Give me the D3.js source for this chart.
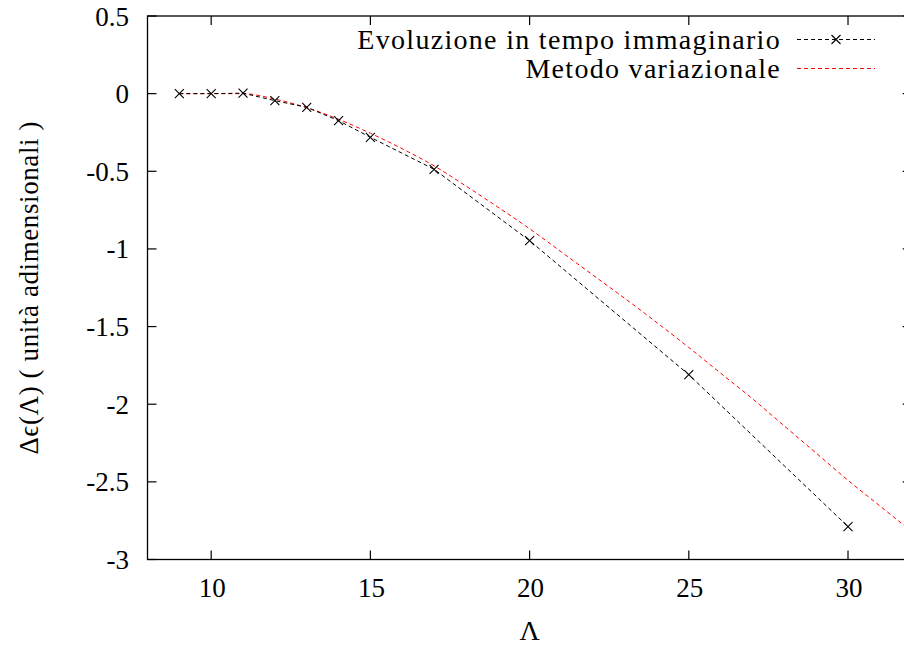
<!DOCTYPE html>
<html>
<head>
<meta charset="utf-8">
<script src="https://cdn.jsdelivr.net/npm/d3@7"></script>
<style>
  html, body { margin: 0; padding: 0; background: #fff; }
  svg { display: block; }
</style>
</head>
<body>
<svg id="chart" width="904" height="648"></svg>
<script>
// ---- data ----
const lambdaImag = [9, 10, 11, 12, 13, 14, 15, 17, 20, 25, 30];
const deltaImag  = [0, 0, 0.003, -0.045, -0.088, -0.174, -0.281, -0.487, -0.947, -1.81, -2.788];

const lambdaVar = [9, 10, 11, 12, 13, 14, 15, 16, 17, 18, 19, 20, 21, 22, 23, 24, 25, 26, 27, 28, 29, 30, 31, 32];
const deltaVar  = [0, 0, 0, -0.035, -0.09, -0.165, -0.255, -0.355, -0.465, -0.595, -0.73, -0.87, -1.02, -1.17, -1.32, -1.475, -1.635, -1.80, -1.965, -2.14, -2.315, -2.49, -2.655, -2.82];

const xTicks = [10, 15, 20, 25, 30];
const yTicks = [0.5, 0, -0.5, -1, -1.5, -2, -2.5, -3];

const seriesNames = ["Evoluzione in tempo immaginario", "Metodo variazionale"];
const xTitle = "Λ";
const yTitle = "Δϵ(Λ) ( unità adimensionali )";

// ---- layout ----
const FONT = "'Liberation Serif', 'DejaVu Serif', 'Times New Roman', Times, serif";
const svg = d3.select("#chart").attr("font-family", FONT);
const L = 147.5, R = 911.7, T = 16, B = 559.5;
const x = d3.scaleLinear().domain([8, 32]).range([L, R]);
const y = d3.scaleLinear().domain([-3, 0.5]).range([B, T]);
const fs = 27;

svg.append("defs").append("clipPath").attr("id", "plotclip")
  .append("rect").attr("x", L).attr("y", T).attr("width", R - L).attr("height", B - T);

// border
svg.append("rect").attr("x", L).attr("y", T).attr("width", R - L).attr("height", B - T)
  .attr("fill", "none").attr("stroke", "#000").attr("stroke-width", 1.3);

// ticks (mirrored, inward)
const tl = 9;
const gAx = svg.append("g").attr("stroke", "#000").attr("stroke-width", 1.2);
xTicks.forEach(v => {
  gAx.append("line").attr("x1", x(v)).attr("x2", x(v)).attr("y1", B).attr("y2", B - tl);
  gAx.append("line").attr("x1", x(v)).attr("x2", x(v)).attr("y1", T).attr("y2", T + tl);
});
yTicks.forEach(v => {
  gAx.append("line").attr("x1", L).attr("x2", L + tl).attr("y1", y(v)).attr("y2", y(v));
  gAx.append("line").attr("x1", R).attr("x2", R - tl).attr("y1", y(v)).attr("y2", y(v));
});

// tick labels
svg.append("g").selectAll("text").data(xTicks).join("text")
  .attr("x", d => x(d) + 1).attr("y", 597).attr("text-anchor", "middle")
  .attr("font-family", FONT).attr("font-size", fs).attr("fill", "#000").text(d => d);
svg.append("g").selectAll("text").data(yTicks).join("text")
  .attr("x", 129).attr("y", d => y(d) + 9.5).attr("text-anchor", "end")
  .attr("font-family", FONT).attr("font-size", fs).attr("fill", "#000").text(d => String(d));

// axis titles
svg.append("text").attr("x", x(20)).attr("y", 640).attr("text-anchor", "middle")
  .attr("font-family", FONT).attr("font-size", 28).attr("fill", "#000").text(xTitle);
svg.append("text").attr("transform", `translate(38,${(T + B) / 2}) rotate(-90)`)
  .attr("text-anchor", "middle").attr("font-family", FONT).attr("font-size", fs)
  .attr("letter-spacing", 0.6).attr("fill", "#000").text(yTitle);

// series
const plot = svg.append("g").attr("clip-path", "url(#plotclip)");
const varData = lambdaVar.map((v, i) => [v, deltaVar[i]]);
const imagData = lambdaImag.map((v, i) => [v, deltaImag[i]]);

plot.append("path").datum(varData)
  .attr("d", d3.line().x(d => x(d[0])).y(d => y(d[1])).curve(d3.curveMonotoneX))
  .attr("fill", "none").attr("stroke", "#ff0000").attr("stroke-width", 1).attr("stroke-dasharray", "4,3");
plot.append("path").datum(imagData)
  .attr("d", d3.line().x(d => x(d[0])).y(d => y(d[1])))
  .attr("fill", "none").attr("stroke", "#000").attr("stroke-width", 1).attr("stroke-dasharray", "4,3");

const ms = 4.5;
const cross = (g, cx, cy) => {
  g.append("path").attr("d", `M${cx - ms},${cy - ms}L${cx + ms},${cy + ms}M${cx - ms},${cy + ms}L${cx + ms},${cy - ms}`)
    .attr("stroke", "#000").attr("stroke-width", 1.1).attr("fill", "none");
};
imagData.forEach(d => cross(plot, x(d[0]), y(d[1])));

// legend
const lg = svg.append("g");
const legY = [39.5, 68.5];
const lx1 = 797, lx2 = 875;
seriesNames.forEach((name, i) => {
  lg.append("text").attr("x", 781).attr("y", legY[i] + 9.5).attr("text-anchor", "end")
    .attr("font-family", FONT).attr("font-size", 28).attr("letter-spacing", 1.3)
    .attr("fill", "#000").text(name);
});
lg.append("line").attr("x1", lx1).attr("x2", lx2).attr("y1", legY[0]).attr("y2", legY[0])
  .attr("stroke", "#000").attr("stroke-width", 1).attr("stroke-dasharray", "4,3");
cross(lg, (lx1 + lx2) / 2, legY[0]);
lg.append("line").attr("x1", lx1).attr("x2", lx2).attr("y1", legY[1]).attr("y2", legY[1])
  .attr("stroke", "#ff0000").attr("stroke-width", 1).attr("stroke-dasharray", "4,3");
</script>
</body>
</html>
